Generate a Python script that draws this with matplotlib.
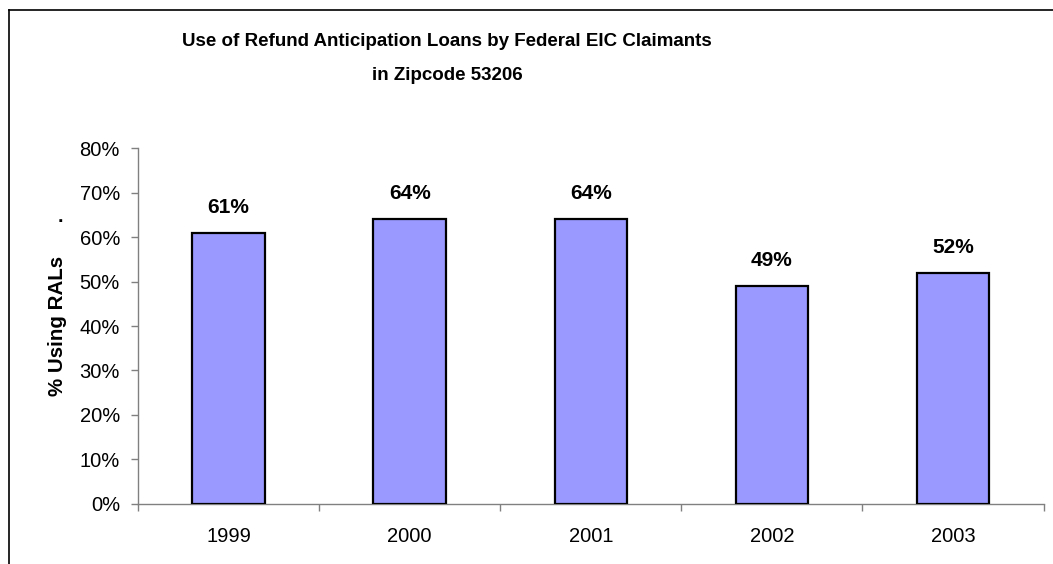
import matplotlib.pyplot as plt
from matplotlib.lines import Line2D
from matplotlib.ticker import FixedLocator, PercentFormatter

years = ['1999', '2000', '2001', '2002', '2003']
pct_using_rals = [61, 64, 64, 49, 52]
y_ticks = [0, 10, 20, 30, 40, 50, 60, 70, 80]

plt.rcParams['font.family'] = ['Liberation Sans', 'DejaVu Sans']

W, H = 1053, 564
fig = plt.figure(figsize=(W / 100, H / 100), dpi=100)
ax = fig.add_axes([138 / W, 1 - 503.7 / H, (1043.5 - 138) / W, (503.7 - 148.4) / H])

x = range(len(years))
bars = ax.bar(x, pct_using_rals, width=0.4, color='#9999FF',
              edgecolor='black', linewidth=1.6, zorder=3)

for rect, v in zip(bars, pct_using_rals):
    ax.annotate(f'{v}%', (rect.get_x() + rect.get_width() / 2, v),
                xytext=(0, 18.5), textcoords='offset points',
                ha='center', va='center', fontsize=15, fontweight='bold')

ax.set_xlim(-0.5, len(years) - 0.5)
ax.set_ylim(0, 80)
ax.set_xticks(list(x))
ax.set_xticklabels(years)
ax.xaxis.set_minor_locator(FixedLocator([i - 0.5 for i in range(len(years) + 1)]))
ax.tick_params(axis='x', which='major', length=0, pad=17, labelsize=14.5)
ax.tick_params(axis='x', which='minor', length=5, width=1, color='#808080', direction='out')
ax.set_yticks(y_ticks)
ax.yaxis.set_major_formatter(PercentFormatter(decimals=0))
ax.tick_params(axis='y', length=5, width=1, color='#808080', pad=8, labelsize=14.5)

for side in ['top', 'right']:
    ax.spines[side].set_visible(False)
for side in ['left', 'bottom']:
    ax.spines[side].set_color('#808080')
    ax.spines[side].set_linewidth(1)

ax.set_ylabel('% Using RALs', fontsize=14.8, fontweight='bold', labelpad=9)
fig.text(60.5 / W, 1 - 217 / H, '.', fontsize=14, fontweight='bold', ha='center', va='center')

fig.text(447 / W, 1 - 42 / H, 'Use of Refund Anticipation Loans by Federal EIC Claimants',
         fontsize=13.5, fontweight='bold', ha='center', va='center')
fig.text(447 / W, 1 - 75 / H, 'in Zipcode 53206',
         fontsize=13.5, fontweight='bold', ha='center', va='center')

# outer chart frame (cut off at right and bottom)
fig.add_artist(Line2D([8.5 / W, 8.5 / W], [0, 1 - 10 / H], transform=fig.transFigure,
                      color='black', linewidth=1.2))
fig.add_artist(Line2D([8.5 / W, 1], [1 - 10 / H, 1 - 10 / H], transform=fig.transFigure,
                      color='black', linewidth=1.2))

fig.savefig('out.png', dpi=100)
